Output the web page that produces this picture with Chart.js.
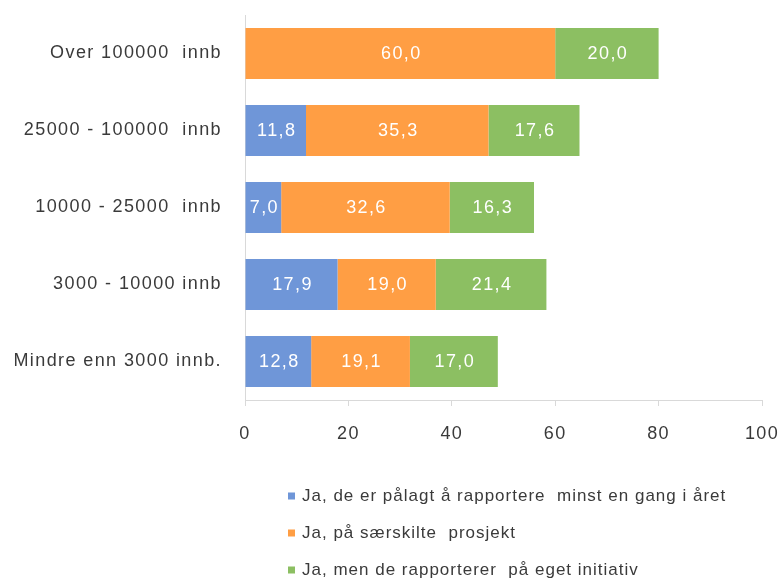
<!DOCTYPE html>
<html>
<head>
<meta charset="utf-8">
<script src="https://cdn.jsdelivr.net/npm/chart.js@4.4.1/dist/chart.umd.min.js"></script>
<style>
    html, body { margin: 0; padding: 0; background: #fff; }
    #wrap { width: 781px; height: 579px; }
</style>
</head>
<body>
<div id="wrap"><canvas id="chart" width="781" height="579"></canvas></div>
<script>
// kommunestørrelse, topp til bunn
const categories = [
    "Over 100000  innb",
    "25000 - 100000  innb",
    "10000 - 25000  innb",
    "3000 - 10000 innb",
    "Mindre enn 3000 innb.",
];
const seriesNames = [
    "Ja, de er pålagt å rapportere  minst en gang i året",
    "Ja, på særskilte  prosjekt",
    "Ja, men de rapporterer  på eget initiativ",
];
const palagt = [null, 11.8, 7.0, 17.9, 12.8];
const prosjekt = [60.0, 35.3, 32.6, 19.0, 19.1];
const egetInitiativ = [20.0, 17.6, 16.3, 21.4, 17.0];
const xTicks = [0, 20, 40, 60, 80, 100];

const colors = ["#6f96d8", "#ff9e44", "#8cbf62"];
const textColor = "#3a3a3a";
const axisColor = "#d9d9d9";
const fontFamily = "'Liberation Sans', Arial, sans-serif";
const letterGap = "1.4px";

// Excel-aktig sperret tekst
const spacing = {
    id: "spacing",
    beforeUpdate(chart) { chart.ctx.letterSpacing = letterGap; },
    beforeDraw(chart) { chart.ctx.letterSpacing = letterGap; },
};

const barValues = {
    id: "barValues",
    afterDatasetsDraw(chart) {
        const ctx = chart.ctx;
        ctx.save();
        ctx.font = `18px ${fontFamily}`;
        ctx.fillStyle = "#ffffff";
        ctx.textAlign = "center";
        ctx.textBaseline = "middle";
        chart.data.datasets.forEach((ds, i) => {
            chart.getDatasetMeta(i).data.forEach((bar, j) => {
                const v = ds.data[j];
                if (v == null) return;
                const c = bar.getCenterPoint();
                ctx.fillText(v.toFixed(1).replace(".", ","), c.x + 1, c.y + 1);
            });
        });
        ctx.restore();
    },
};

// legenden står som en liste, ett element per linje
const legendList = {
    id: "legendList",
    afterDraw(chart) {
        const ctx = chart.ctx;
        const top = chart.chartArea.bottom + 96;
        ctx.save();
        ctx.letterSpacing = "1px";
        ctx.font = `17px ${fontFamily}`;
        ctx.textAlign = "left";
        ctx.textBaseline = "middle";
        chart.data.datasets.forEach((ds, i) => {
            const y = top + i * 37;
            ctx.fillStyle = ds.backgroundColor;
            ctx.fillRect(288, y - 3.5, 7, 7);
            ctx.fillStyle = textColor;
            ctx.fillText(ds.label, 302, y);
        });
        ctx.restore();
    },
};

const datasets = [palagt, prosjekt, egetInitiativ].map((data, i) => ({
    label: seriesNames[i],
    data,
    backgroundColor: colors[i],
    borderWidth: 0,
    categoryPercentage: 1,
    barPercentage: 0.66,
}));

new Chart(document.getElementById("chart"), {
    type: "bar",
    data: { labels: categories, datasets },
    plugins: [spacing, barValues, legendList],
    options: {
        indexAxis: "y",
        responsive: false,
        animation: false,
        layout: { padding: { left: 0, right: 19, top: 15, bottom: 130 } },
        plugins: {
            legend: { display: false },
            tooltip: { enabled: false },
        },
        scales: {
            x: {
                stacked: true,
                min: 0,
                max: 100,
                afterBuildTicks(scale) {
                    scale.ticks = xTicks.map((v) => ({ value: v }));
                },
                afterFit(scale) {
                    scale.height = 49;
                    scale.paddingLeft = 0;
                    scale.paddingRight = 0;
                },
                ticks: {
                    color: textColor,
                    font: { family: fontFamily, size: 18 },
                    padding: 17,
                    maxRotation: 0,
                },
                grid: {
                    drawOnChartArea: false,
                    drawTicks: true,
                    tickLength: 6,
                    color: axisColor,
                },
                border: { color: axisColor },
            },
            y: {
                stacked: true,
                afterFit(scale) {
                    scale.width = 245;
                    scale.paddingTop = 0;
                    scale.paddingBottom = 0;
                },
                ticks: {
                    color: textColor,
                    font: { family: fontFamily, size: 18 },
                    padding: 15,
                },
                grid: { display: false },
                border: { color: axisColor },
            },
        },
    },
});
</script>
</body>
</html>
